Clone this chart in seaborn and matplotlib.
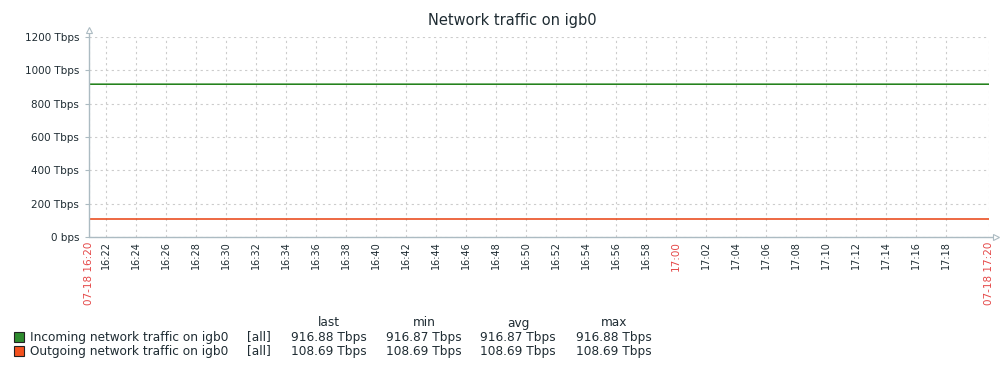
import matplotlib
matplotlib.use('Agg')
import matplotlib.pyplot as plt
from matplotlib.patches import Rectangle
import pandas as pd
import seaborn as sns

# Data (values in Tbps)
times = pd.to_datetime(['2024-07-18 16:20:53', '2024-07-18 16:40:00',
                        '2024-07-18 17:00:00', '2024-07-18 17:20:53'])
incoming = [916.88, 916.87, 916.88, 916.88]
outgoing = [108.69, 108.69, 108.69, 108.69]
series_names = ['Incoming network traffic on igb0', 'Outgoing network traffic on igb0']
stat_headers = ['last', 'min', 'avg', 'max']
stats = [['916.88 Tbps', '916.87 Tbps', '916.87 Tbps', '916.88 Tbps'],
         ['108.69 Tbps', '108.69 Tbps', '108.69 Tbps', '108.69 Tbps']]
y_ticks = [0, 200, 400, 600, 800, 1000, 1200]

colors = ['#1A7C11', '#E8400F']
legend_colors = ['#2E8B2E', '#F4511E']
text_color = '#1F2C33'
red_text = '#E54848'

df = pd.DataFrame({'time': list(times) * 2,
                   'value': incoming + outgoing,
                   'series': [series_names[0]] * len(times) + [series_names[1]] * len(times)})

sns.set_style('white')
plt.rcParams['font.family'] = ['DejaVu Sans']

W, H = 1007, 370
fig = plt.figure(figsize=(W / 100, H / 100), dpi=100)
ax = fig.add_axes([89 / W, 1 - 237 / H, 900 / W, 200 / H])

sns.lineplot(data=df, x='time', y='value', hue='series', palette=colors,
             linewidth=1.1, ax=ax, legend=False)

start, end = times[0], times[-1]
ax.set_xlim(start, end)
ax.set_ylim(0, 1200)

# x ticks every 2 minutes, plus start and end
ticks = [start] + list(pd.date_range('2024-07-18 16:22', '2024-07-18 17:18', freq='2min')) + [end]
labels = []
for i, t in enumerate(ticks):
    if i == 0 or i == len(ticks) - 1:
        labels.append(t.strftime('%m-%d %H:%M'))
    else:
        labels.append(t.strftime('%H:%M'))
ax.set_xticks(ticks)
ax.set_xticklabels(labels, rotation=90, fontsize=7, color=text_color)
for i, (t, lab) in enumerate(zip(ticks, ax.get_xticklabels())):
    if i == 0 or i == len(ticks) - 1 or t.minute == 0:
        lab.set_color(red_text)
        lab.set_fontsize(7.5)

ax.set_yticks(y_ticks)
ax.set_yticklabels(['0 bps' if v == 0 else f'{v} Tbps' for v in y_ticks],
                   fontsize=7.5, color=text_color)
ax.tick_params(axis='x', length=0, pad=3)
ax.tick_params(axis='y', length=3, pad=4, color='#ACBBC2', left=True)

ax.grid(True, linestyle=(0, (2, 3)), color='#CCCCCC', linewidth=0.8)
ax.set_xlabel('')
ax.set_ylabel('')
for s in ['top', 'right', 'left', 'bottom']:
    ax.spines[s].set_visible(False)

# axis lines with arrow heads
ax.plot([0, 0], [0, 1.02], color='#ACBBC2', lw=1, transform=ax.transAxes, clip_on=False)
ax.plot([0, 1.004], [0, 0], color='#ACBBC2', lw=1, transform=ax.transAxes, clip_on=False)
ax.plot([0], [1.035], marker='^', ms=5, mfc='white', mec='#ACBBC2', mew=0.8,
        transform=ax.transAxes, clip_on=False)
ax.plot([1.0078], [0], marker='>', ms=5, mfc='white', mec='#ACBBC2', mew=0.8,
        transform=ax.transAxes, clip_on=False)

fig.text(512 / W, 1 - 20 / H, 'Network traffic on igb0', ha='center', va='center',
         fontsize=10.5, color=text_color)

# legend table
col_x = [329, 424, 518, 614]
for x, h in zip(col_x, stat_headers):
    fig.text(x / W, 1 - 323 / H, h, ha='center', va='center', fontsize=8.7, color=text_color)
for r, (name, row) in enumerate(zip(series_names, stats)):
    y = 337 + r * 14
    fig.add_artist(Rectangle((14 / W, 1 - (y + 5) / H), 10 / W, 10 / H,
                             facecolor=legend_colors[r], edgecolor='#222222', lw=0.8,
                             transform=fig.transFigure))
    fig.text(30 / W, 1 - y / H, name, ha='left', va='center', fontsize=8.7, color=text_color)
    fig.text(259 / W, 1 - y / H, '[all]', ha='center', va='center', fontsize=8.7, color=text_color)
    for x, v in zip(col_x, row):
        fig.text(x / W, 1 - y / H, v, ha='center', va='center', fontsize=8.7, color=text_color)

fig.savefig('out.png', dpi=100)
